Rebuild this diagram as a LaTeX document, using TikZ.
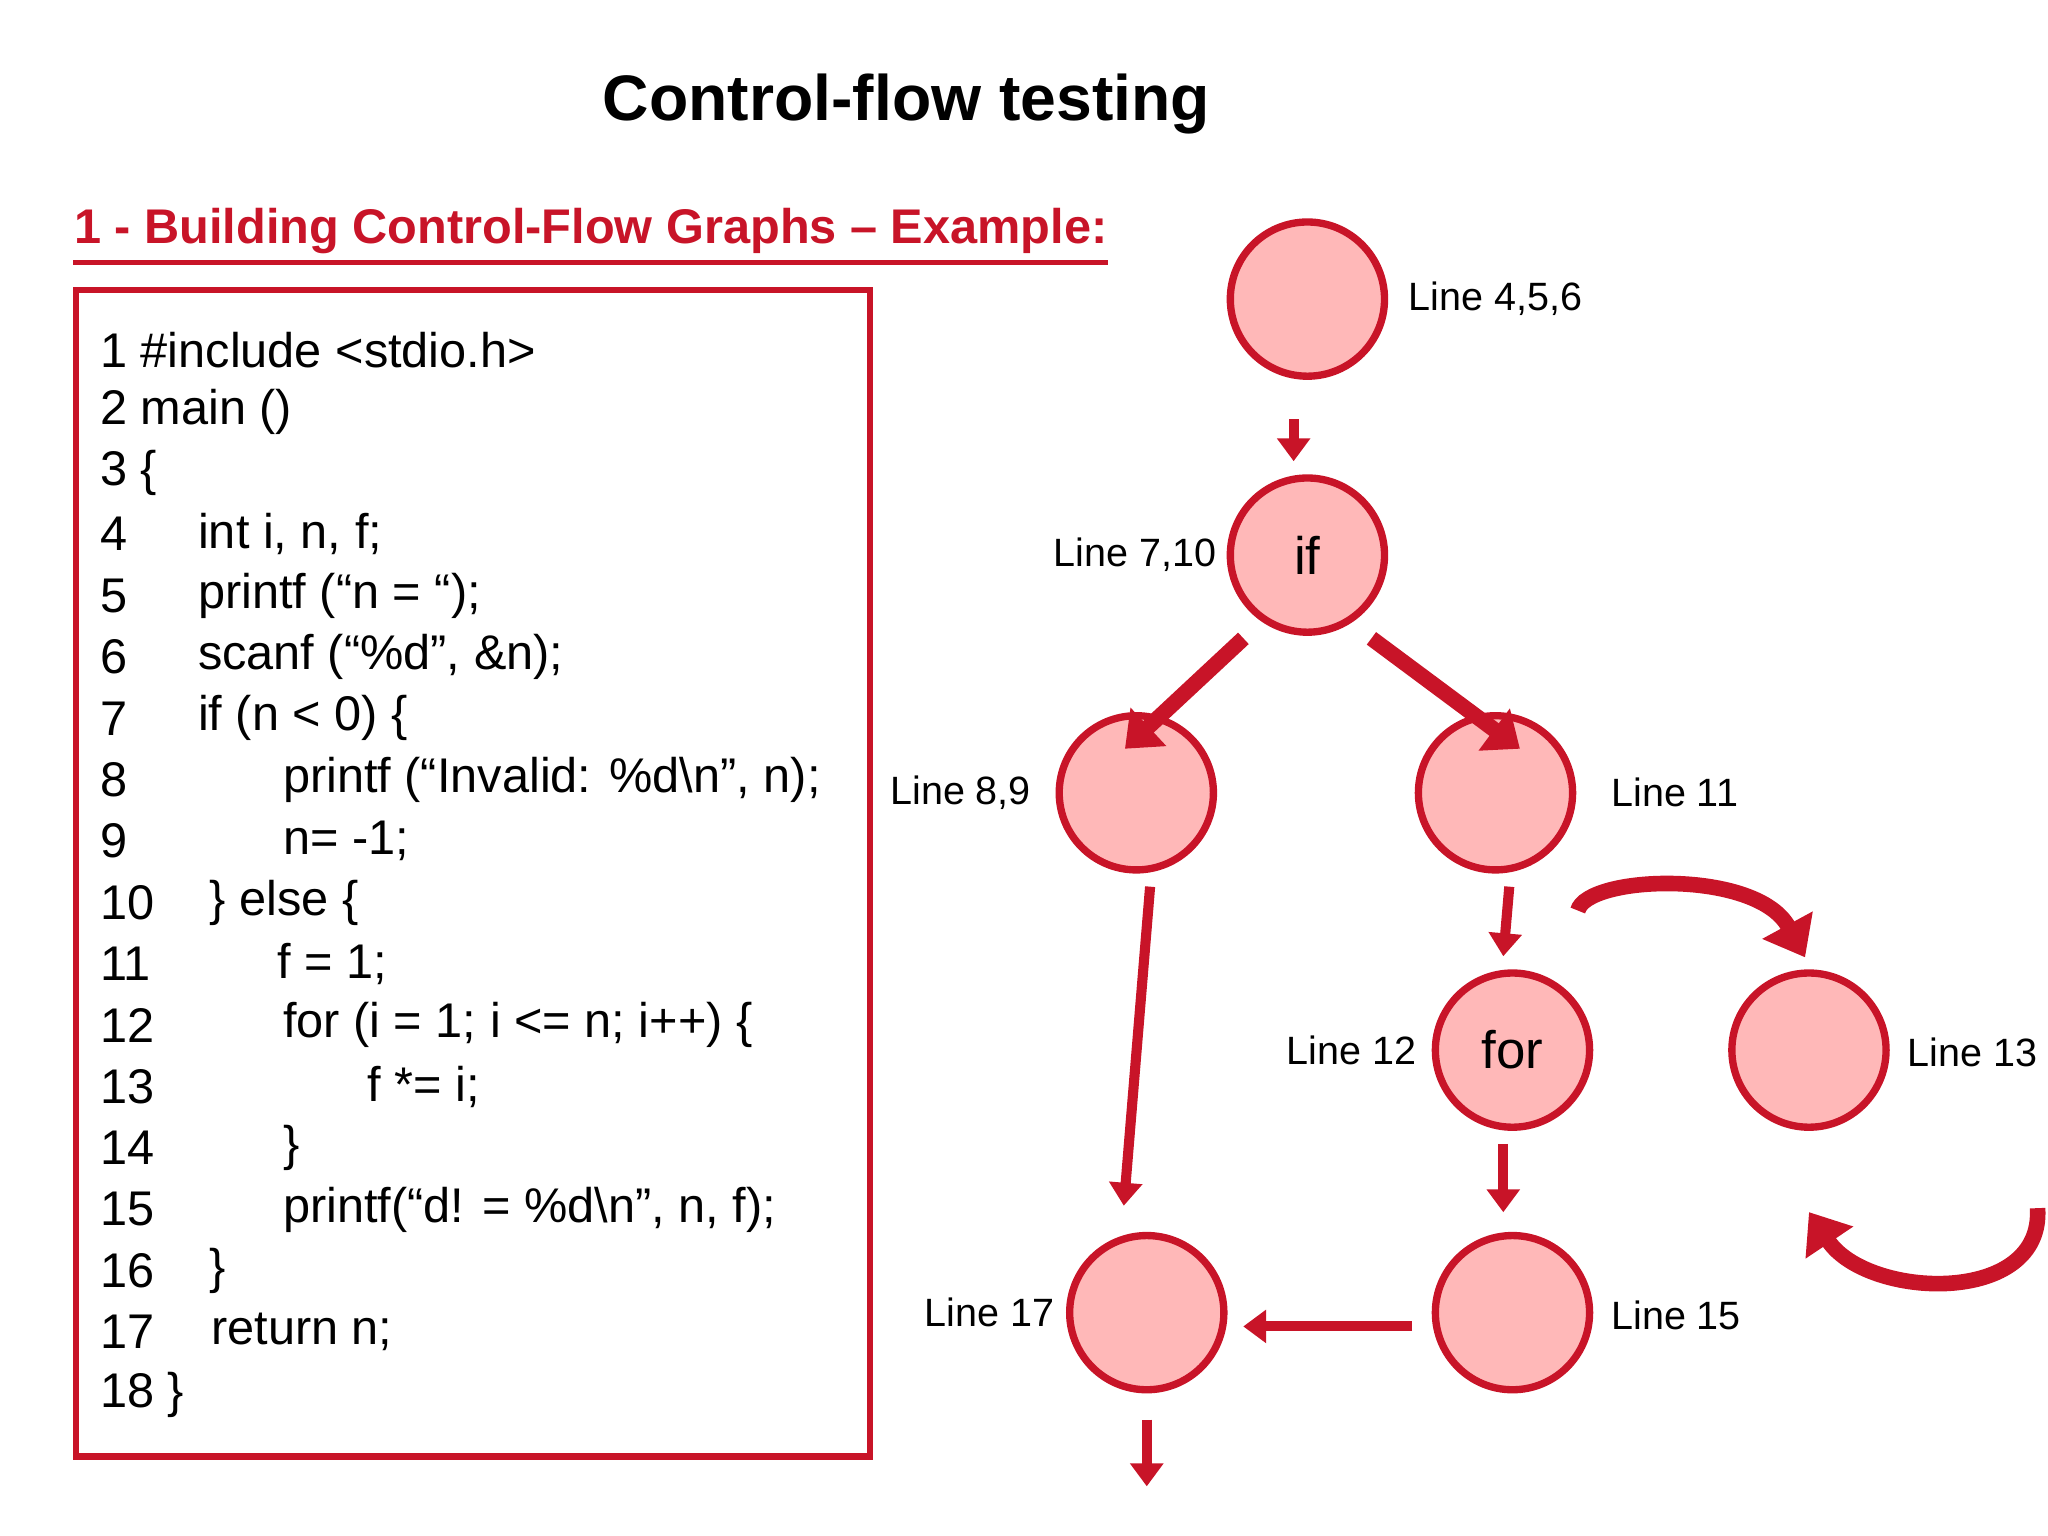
\documentclass[tikz,border=0pt]{standalone}
\usepackage{fontspec}
\setmainfont{Liberation Sans}
\usetikzlibrary{arrows.meta}
\definecolor{cred}{RGB}{200,20,40}
\definecolor{cpink}{RGB}{255,184,184}
\begin{document}
\begin{tikzpicture}[x=0.01cm,y=-0.01cm,
  cnode/.style={circle,draw=cred,fill=cpink,line width=1.6pt,minimum size=1.18cm,inner sep=0pt,font=\fontsize{11.5pt}{13pt}\selectfont},
  lbl/.style={font=\fontsize{8.6pt}{10pt}\selectfont,inner sep=0pt},
  code/.style={anchor=west,inner sep=0pt,font=\fontsize{10.6pt}{12pt}\selectfont},
  arr/.style={draw=cred,line width=2.2pt,-{Triangle[length=5pt,width=7pt]}},
  fat/.style={draw=cred,line width=3.4pt,-{Triangle[length=7pt,width=11pt]}},
  curv/.style={draw=cred,line width=3.4pt,-{Triangle[length=8pt,width=12pt]}}]
\useasboundingbox (0,0) rectangle (1568,1176);
\node[font=\bfseries\fontsize{14pt}{16pt}\selectfont] (title) at (694,80) {Control-flow testing};
\node[anchor=west,inner sep=0pt,text=cred,font=\bfseries\fontsize{10.6pt}{12pt}\selectfont] (sub) at (56,177) {1 - Building Control-Flow Graphs – Example:};
\draw[cred,line width=1.2pt] (sub.south west)++(0,6) coordinate (u1) -- (sub.south east|-u1);
\draw[cred,line width=1.4pt] (58,222) rectangle (666,1115);
\foreach \n/\t/\x in {1/{\#include <stdio.h>}/0, 2/{main ()}/0, 3/\{/0}
  \node[code] (n\n) at (76,{268+47*(\n-1)}) {\n\ \t};
\foreach \n/\t/\x in {4/{int i, n, f;}/151, 5/{printf (“n = “);}/151, 6/{scanf (“\%d”, \&n);}/151, 7/{if (n < 0) \{}/151,
  8/{printf (“Invalid: \%d\textbackslash n”, n);}/216, 9/{n= -1;}/216, 10/{\} else \{}/160, 11/{f = 1;}/212,
  12/{for (i = 1; i <= n; i++) \{}/216, 13/{f *= i;}/281, 14/\}/216, 15/{printf(“d! = \%d\textbackslash n”, n, f);}/216,
  16/\}/160, 17/{return n;}/161}
  { \node[code] (k\n) at (76,{268+47*(\n-1)}) {\n};
    \node[code] (n\n) at (\x,{268+47*(\n-1)}) {\t}; }
\node[code] (n18) at (76,1068) {18 \}};
\node[cnode] (A) at (1001,229) {};
\node[cnode] (B) at (1001,425) {if};
\node[cnode] (C) at (870,607) {};
\node[cnode] (D) at (1145,607) {};
\node[cnode] (E) at (1158,804) {for};
\node[cnode] (F) at (1385,804) {};
\node[cnode] (G) at (878,1005) {};
\node[cnode] (H) at (1158,1005) {};
\node[lbl,anchor=west] (la) at (1078,229) {Line 4,5,6};
\node[lbl,anchor=east] (lb) at (932,425) {Line 7,10};
\node[lbl,anchor=east] (lc) at (790,607) {Line 8,9};
\node[lbl,anchor=west] (ld) at (1233,607) {Line 11};
\node[lbl,anchor=east] (le) at (1085,804) {Line 12};
\node[lbl,anchor=west] (lf) at (1460,806) {Line 13};
\node[lbl,anchor=east] (lg) at (808,1005) {Line 17};
\node[lbl,anchor=west] (lh) at (1233,1007) {Line 15};
\coordinate (end) at (878,1138);
\draw[arr] ([xshift=-3pt,yshift=-0.3cm]A.south) -- ([xshift=-3pt,yshift=0.1cm]B.north);
\draw[fat] ([shift={(-1.5pt,-0.2cm)}]B.south west) -- ([shift={(0.35cm,-0.1cm)}]C.north west);
\draw[fat] ([shift={(1.5pt,-0.2cm)}]B.south east) -- ([shift={(-0.25cm,-0.1cm)}]D.north east);
\draw[arr] ([xshift=3pt,yshift=-0.1cm]C.south) -- ([xshift=-5pt,yshift=0.2cm]G.north);
\draw[arr] ([xshift=3pt,yshift=-0.1cm]D.south) -- ([xshift=-2pt,yshift=0.1cm]E.north);
\draw[arr] ([xshift=-2pt,yshift=-0.1cm]E.south) -- ([xshift=-2pt,yshift=0.15cm]H.north);
\draw[arr] ([xshift=-0.15cm,yshift=-3pt]H.west) -- ([xshift=0.12cm,yshift=-3pt]G.east);
\draw[arr] ([yshift=-0.2cm]G.south) -- (end);
\draw[curv] ([shift={(0.5cm,0.45cm)}]E.north) .. controls (1215,670) and (1345,665) .. (1382,733);
\draw[curv] (1560,925) .. controls (1565,1000) and (1430,995) .. (1385,928);
\end{tikzpicture}
\end{document}
